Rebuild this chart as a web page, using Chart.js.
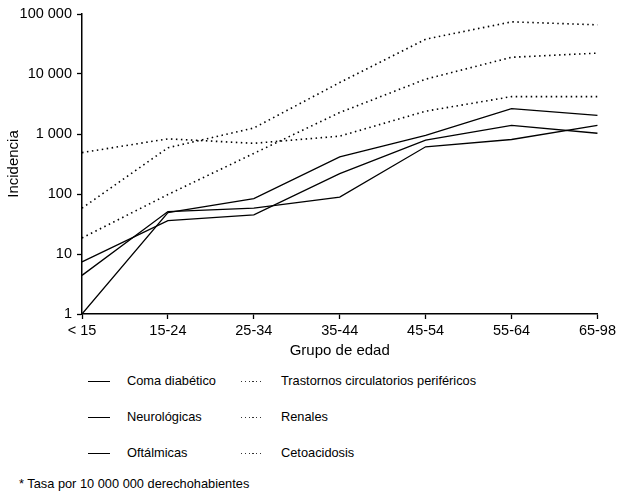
<!DOCTYPE html>
<html>
<head>
<meta charset="utf-8">
<script src="https://cdn.jsdelivr.net/npm/chart.js@4"></script>
<style>
  body { margin: 0; background: #fff; font-family: "Liberation Sans", Arial, sans-serif; }
  #wrap { position: relative; width: 619px; height: 500px; }
  #chartBox { position: absolute; left: 0; top: 0; width: 619px; height: 363px; }
  .leg { position: absolute; font-size: 12.8px; color: #000; line-height: 16px; }
  .sample { position: absolute; width: 22px; }
  .solid { height: 0; border-top: 1.5px solid #000; }
  .dotted { height: 1.2px; background: repeating-linear-gradient(to right, #333 0 1.3px, transparent 1.3px 3.8px); }
  #nota { position: absolute; left: 19px; top: 476px; font-size: 12.8px; }
</style>
</head>
<body>
<div id="wrap">
  <div id="chartBox"><canvas id="incChart"></canvas></div>
  <div id="legend"></div>
  <div id="nota">* Tasa por 10 000 000 derechohabientes</div>
</div>
<script>
// Grupos de edad
const gruposEdad = ["< 15", "15-24", "25-34", "35-44", "45-54", "55-64", "65-98"];

// Complicaciones (tasa por 10 000 000 derechohabientes)
const comaDiabetico = [7.4, 36, 45, 219, 790, 1390, 1030];
const neurologicas = [4.4, 51, 58, 89, 612, 810, 1390];
const oftalmicas = [1, 49, 84, 417, 950, 2650, 2040];
const trastornosCirc = [58, 590, 1260, 7200, 38000, 74000, 66000];
const renales = [18.5, 98, 475, 2280, 8200, 19000, 22300];
const cetoacidosis = [490, 830, 700, 920, 2400, 4200, 4200];

const ticksY = [1, 10, 100, 1000, 10000, 100000];

const series = [
  { label: "Coma diabético", data: comaDiabetico, dotted: false },
  { label: "Neurológicas", data: neurologicas, dotted: false },
  { label: "Oftálmicas", data: oftalmicas, dotted: false },
  { label: "Trastornos circulatorios periféricos", data: trastornosCirc, dotted: true },
  { label: "Renales", data: renales, dotted: true },
  { label: "Cetoacidosis", data: cetoacidosis, dotted: true },
];

const fam = "'Liberation Sans', Arial, sans-serif";
const tickFont = { family: fam, size: 14.5 };
const titleFont = { family: fam, size: 15 };

const ctx = document.getElementById("incChart").getContext("2d");
new Chart(ctx, {
  type: "line",
  data: {
    labels: gruposEdad,
    datasets: series.map((s) => ({
      label: s.label,
      data: s.data,
      borderColor: "#000",
      borderWidth: s.dotted ? 1.6 : 1.3,
      borderDash: s.dotted ? [1.5, 3.5] : [],
      pointRadius: 0,
      tension: 0,
      fill: false,
    })),
  },
  options: {
    responsive: true,
    maintainAspectRatio: false,
    animation: false,
    layout: { padding: { top: 14, right: 21, left: 0, bottom: 0 } },
    plugins: {
      legend: { display: false },
      tooltip: { enabled: false },
    },
    scales: {
      x: {
        type: "category",
        offset: false,
        grid: { drawOnChartArea: false, color: "#000", tickLength: 5, tickWidth: 1.3 },
        border: { color: "#000", width: 1.5 },
        ticks: { color: "#000", font: tickFont, maxRotation: 0, autoSkip: false, padding: 3 },
        title: { display: true, text: "Grupo de edad", color: "#000", font: titleFont, padding: { top: 2, bottom: 3 } },
        afterFit: (scale) => { scale.height = 49; },
      },
      y: {
        type: "logarithmic",
        min: 1,
        max: 100000,
        grid: { drawOnChartArea: false, color: "#000", tickLength: 5, tickWidth: 1.3 },
        border: { color: "#000", width: 1.5 },
        afterBuildTicks: (scale) => {
          scale.ticks = ticksY.map((v) => ({ value: v }));
        },
        ticks: {
          color: "#000",
          font: tickFont,
          padding: 5,
          callback: (v) => String(v).replace(/\B(?=(\d{3})+(?!\d))/g, " "),
        },
        title: { display: true, text: "Incidencia", color: "#000", font: titleFont, padding: { top: 5, bottom: 4 } },
        afterFit: (scale) => { scale.width = 82; },
      },
    },
  },
});

// Leyenda en dos columnas
const legend = document.getElementById("legend");
const rowsY = [373, 409, 445];
series.forEach((s, i) => {
  const col = i < 3 ? 0 : 1;
  const row = i % 3;
  const line = document.createElement("div");
  line.className = "sample " + (s.dotted ? "dotted" : "solid");
  line.style.left = (col === 0 ? 88 : 241) + "px";
  line.style.top = rowsY[row] + 8 + "px";
  legend.appendChild(line);
  const txt = document.createElement("div");
  txt.className = "leg";
  txt.style.left = (col === 0 ? 127 : 281) + "px";
  txt.style.top = rowsY[row] + "px";
  txt.textContent = s.label;
  legend.appendChild(txt);
});
</script>
</body>
</html>
